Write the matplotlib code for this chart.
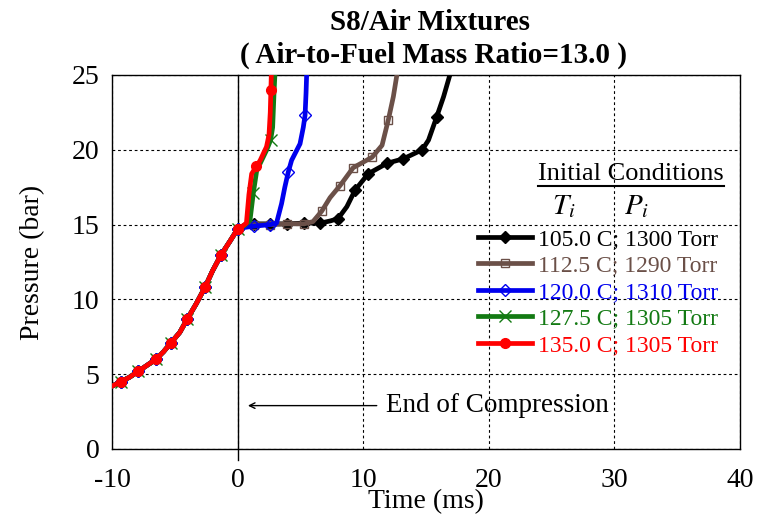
import numpy as np
import matplotlib
matplotlib.use("Agg")
import matplotlib.pyplot as plt
from matplotlib.lines import Line2D

plt.rcParams['font.family'] = ['Liberation Serif', 'DejaVu Serif']
plt.rcParams['mathtext.fontset'] = 'stix'
plt.rcParams['axes.unicode_minus'] = False

# compression stroke (shared shape up to end of compression, t = 0)
t_comp = [-10.0, -9.3, -8.6, -7.9, -7.2, -6.5, -5.9, -5.3, -4.6, -4.0, -3.3, -2.6, -2.0, -1.3, -0.6, 0.0]
p_comp = [4.2, 4.5, 4.8, 5.2, 5.6, 6.0, 6.5, 7.1, 7.8, 8.7, 9.7, 10.8, 11.9, 13.0, 13.9, 14.7]

# post-compression traces for each initial condition
t_105 = [0.6, 1.3, 2.6, 3.9, 5.3, 6.6, 7.4, 8.0, 8.7, 9.35, 10.4, 11.9, 13.2, 14.7, 15.2, 15.85, 16.4, 16.9, 17.1]
p_105 = [15.0, 15.05, 15.05, 15.05, 15.1, 15.1, 15.25, 15.4, 16.2, 17.3, 18.4, 19.1, 19.4, 20.0, 20.65, 22.2, 23.55, 25.0, 25.6]

t_112 = [0.6, 1.3, 2.6, 3.9, 5.3, 6.0, 6.7, 7.36, 8.15, 9.2, 10.7, 11.5, 12.0, 12.4, 12.7]
p_112 = [14.95, 15.0, 15.0, 15.05, 15.05, 15.2, 15.9, 16.8, 17.6, 18.8, 19.5, 20.3, 22.0, 23.55, 25.1]

t_120 = [0.5, 1.3, 2.0, 2.6, 3.1, 3.5, 3.76, 4.03, 4.3, 4.97, 5.23, 5.37, 5.45, 5.5]
p_120 = [14.8, 14.9, 14.95, 15.0, 15.1, 16.4, 17.5, 18.5, 19.3, 20.4, 21.5, 22.3, 23.8, 25.1]

t_127 = [0.5, 0.99, 1.25, 1.52, 2.32, 2.63, 2.79, 2.9, 2.98]
p_127 = [14.9, 15.3, 17.1, 18.6, 20.0, 20.65, 21.5, 23.8, 25.2]

t_135 = [0.4, 0.7, 0.9, 1.12, 1.5, 1.8, 2.3, 2.5, 2.6, 2.65, 2.7]
p_135 = [14.9, 15.1, 17.0, 18.4, 18.9, 19.3, 20.2, 21.0, 22.5, 24.0, 25.5]

labels = ["105.0 C; 1300 Torr", "112.5 C; 1290 Torr", "120.0 C; 1310 Torr",
          "127.5 C; 1305 Torr", "135.0 C; 1305 Torr"]

series = [
    (t_105, p_105, '#000000', 'D', True, 6),
    (t_112, p_112, '#6b5048', 's', False, 6),
    (t_120, p_120, '#0000ee', 'D', False, 6.5),
    (t_127, p_127, '#137a13', 'x', True, 8),
    (t_135, p_135, '#ff0000', 'o', True, 7),
]


def marker_indices(t, step=1.33):
    # one marker roughly every sampling interval of the recorder
    t = np.asarray(t)
    targets = np.arange(t[0] + 0.67, t[-1], step)
    idx = sorted(set(int(np.argmin(np.abs(t - v))) for v in targets))
    return idx


fig = plt.figure(figsize=(7.65, 5.16), dpi=100)
ax = fig.add_axes([112 / 765, 1 - 449 / 516, 628 / 765, 374 / 516])

for (t_post, p_post, color, marker, filled, ms), label in zip(series, labels):
    t = np.array(t_comp + t_post)
    p = np.array(p_comp + p_post)
    ax.plot(t, p, color=color, lw=3.4, marker=marker, ms=ms,
            markevery=marker_indices(t),
            mfc=color if filled else 'none', mec=color, mew=1.0,
            label=label, zorder=3)

ax.set_xlim(-10, 40)
ax.set_ylim(0, 25)
ax.set_xticks(np.arange(-10, 41, 10))
ax.set_yticks(np.arange(0, 26, 5))
ax.tick_params(length=0, labelsize=20)
ax.tick_params(axis='x', pad=14)
ax.tick_params(axis='y', pad=9)
ax.grid(True, color='black', ls=(0, (2.5, 2.5)), lw=0.8)
for s in ax.spines.values():
    s.set_linewidth(1.0)

# end-of-compression marker line
ax.plot([0, 0], [-0.75, 25], color='black', lw=1.0, clip_on=False, zorder=2)
ax.annotate('', xy=(0.6, 2.9), xytext=(11.3, 2.9),
            arrowprops=dict(arrowstyle='->', color='black', lw=1.0))
ax.text(11.8, 2.9, 'End of Compression', fontsize=19.5, va='center', ha='left')

ax.set_xlabel('Time (ms)', fontsize=20, labelpad=-3)
ax.set_ylabel('Pressure (bar)', fontsize=20, labelpad=19)

fig.text(430 / 765, 1 - 22 / 516, 'S8/Air Mixtures', ha='center', va='center',
         fontsize=21, fontweight='bold')
fig.text(434 / 765, 1 - 55 / 516, '( Air-to-Fuel Mass Ratio=13.0 )', ha='center',
         va='center', fontsize=21, fontweight='bold')

leg = ax.legend(loc='upper left', bbox_to_anchor=(0.583, 0.590), frameon=False,
                fontsize=17, handlelength=2.3, handletextpad=0.25,
                labelspacing=0.21, borderpad=0, borderaxespad=0,
                labelcolor='linecolor', markerscale=1.0)

hdr = ax.text(0.678, 0.736, 'Initial Conditions', transform=ax.transAxes,
              fontsize=19, ha='left', va='center')
ax.text(0.700, 0.648, '$T_i$', transform=ax.transAxes, fontsize=21, ha='left', va='center')
ax.text(0.816, 0.648, '$P_i$', transform=ax.transAxes, fontsize=21, ha='left', va='center')

# underline the legend header
fig.canvas.draw()
bb = hdr.get_window_extent(fig.canvas.get_renderer())
fig.add_artist(Line2D([bb.x0 / 765, bb.x1 / 765], [(bb.y0 - 1) / 516] * 2,
                      transform=fig.transFigure, color='black', lw=1.5))

fig.savefig('out.png', dpi=100)
